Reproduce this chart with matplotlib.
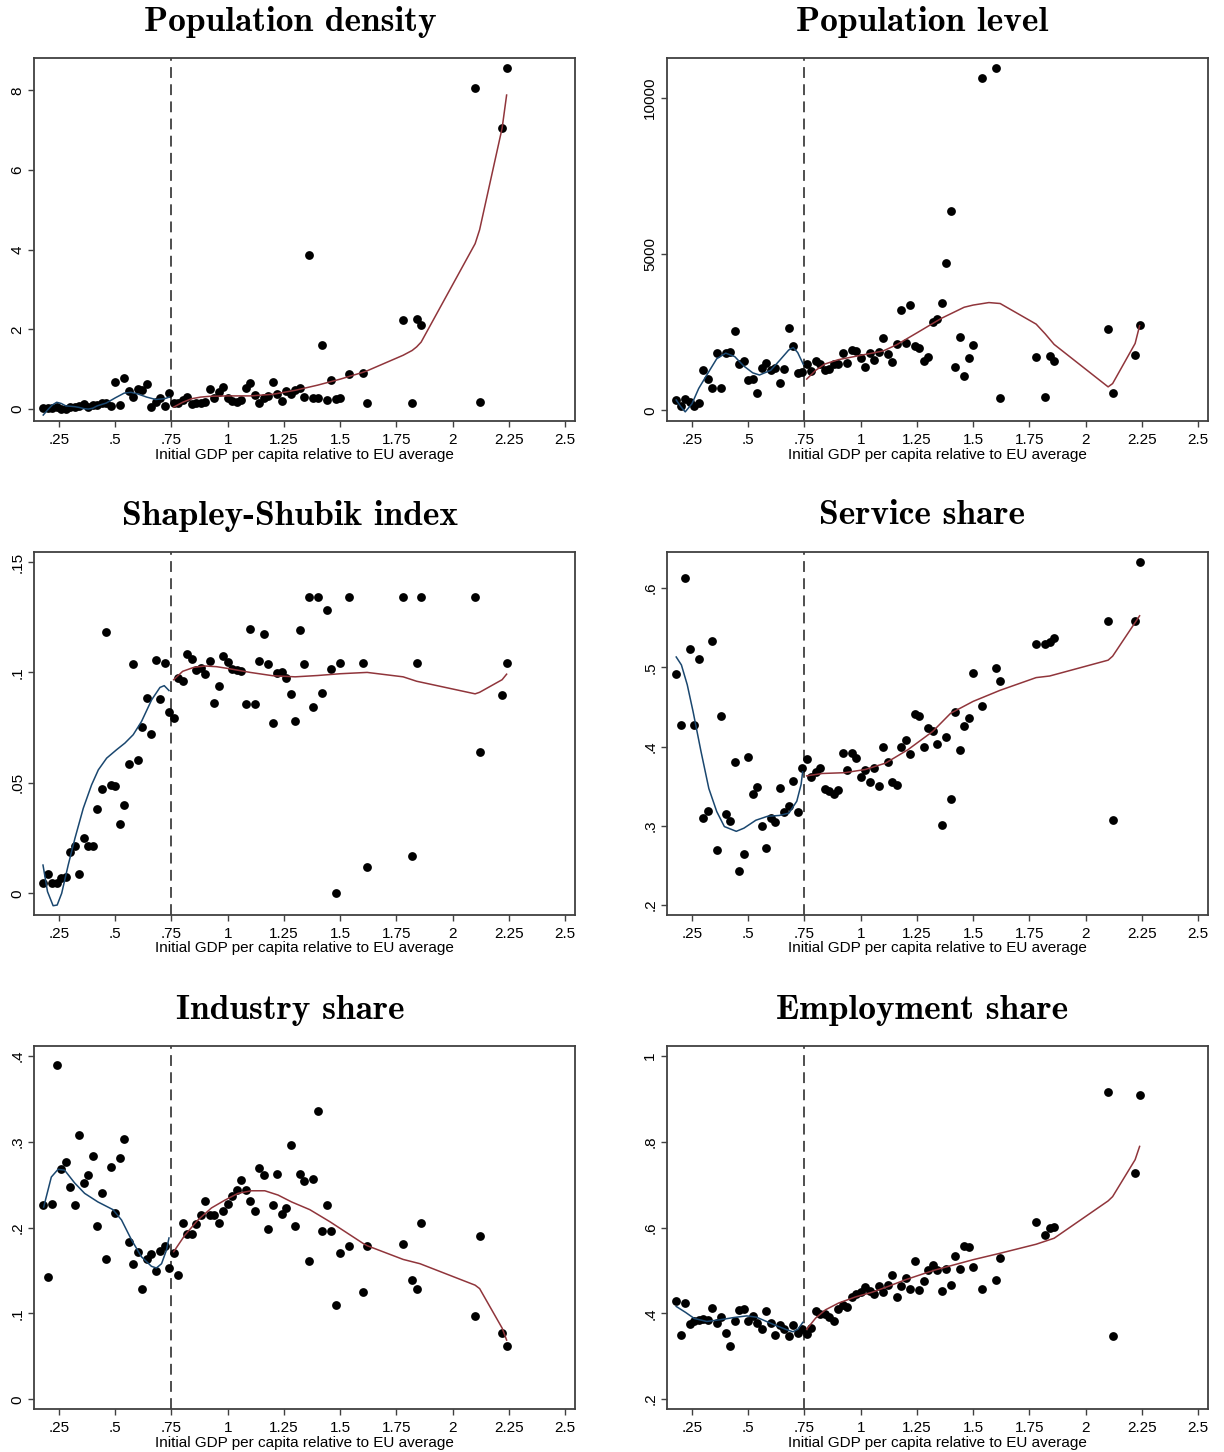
import numpy as np
import matplotlib.pyplot as plt

# initial GDP per capita relative to EU average, one entry per region
gdp = [0.18, 0.20, 0.22, 0.24, 0.26, 0.28, 0.30, 0.32, 0.34, 0.36, 0.38, 0.40, 0.42, 0.44, 0.46,
       0.48, 0.50, 0.52, 0.54, 0.56, 0.58, 0.60, 0.62, 0.64, 0.66, 0.68, 0.70, 0.72, 0.74,
       0.76, 0.78, 0.80, 0.82, 0.84, 0.86, 0.88, 0.90, 0.92, 0.94, 0.96, 0.98, 1.00, 1.02,
       1.04, 1.06, 1.08, 1.10, 1.12, 1.14, 1.16, 1.18, 1.20, 1.22, 1.24, 1.26, 1.28, 1.30,
       1.32, 1.34, 1.36, 1.38, 1.40, 1.42, 1.44, 1.46, 1.48, 1.50,
       1.54, 1.60, 1.62, 1.78, 1.82, 1.84, 1.86, 2.10, 2.12, 2.22, 2.24]

pop_density = [0.02, 0.03, 0.02, 0.05, 0.01, 0.00, 0.06, 0.05, 0.08, 0.12, 0.06, 0.10, 0.09, 0.15, 0.15,
               0.08, 0.67, 0.09, 0.79, 0.46, 0.31, 0.51, 0.47, 0.64, 0.06, 0.18, 0.28, 0.08, 0.40,
               0.16, 0.15, 0.23, 0.29, 0.13, 0.14, 0.16, 0.18, 0.51, 0.28, 0.44, 0.56, 0.28, 0.21,
               0.18, 0.23, 0.52, 0.66, 0.34, 0.15, 0.28, 0.33, 0.69, 0.39, 0.19, 0.46, 0.39, 0.48,
               0.52, 0.30, 3.86, 0.27, 0.27, 1.61, 0.23, 0.72, 0.24, 0.27,
               0.88, 0.91, 0.15, 2.23, 0.16, 2.25, 2.10, 8.05, 0.18, 7.05, 8.55]

pop_level = [321, 128, 364, 267, 150, 246, 1294, 1005, 717, 1840, 706, 1840, 1861, 2545, 1497,
             1583, 984, 1005, 567, 1369, 1519, 1305, 1369, 888, 1326, 2631, 2075, 1209, 1241,
             1497, 1262, 1572, 1497, 1283, 1326, 1476, 1476, 1840, 1529, 1925, 1904, 1690, 1380,
             1829, 1604, 1882, 2321, 1807, 1551, 2139, 3198, 2171, 3369, 2075, 1989, 1594, 1722,
             2813, 2930, 3444, 4727, 6396, 1380, 2332, 1102, 1690, 2086,
             10642, 10973, 396, 1701, 428, 1733, 1594, 2588, 556, 1786, 2738]

shapley = [0.0048, 0.0086, 0.0048, 0.0048, 0.0068, 0.0073, 0.0187, 0.0214, 0.0086, 0.0249, 0.0214,
           0.0214, 0.0382, 0.0471, 0.1183, 0.0492, 0.0488, 0.0313, 0.0399, 0.0586, 0.1039, 0.0603,
           0.0752, 0.0885, 0.0721, 0.1057, 0.0879, 0.1042, 0.0819,
           0.0793, 0.0973, 0.0961, 0.1085, 0.1059, 0.1012, 0.1021, 0.0991, 0.1050, 0.0863, 0.0940,
           0.1074, 0.1048, 0.1017, 0.1009, 0.1008, 0.0856, 0.1196, 0.0856, 0.1050, 0.1174, 0.1038,
           0.0773, 0.0998, 0.1003, 0.0974, 0.0902, 0.0782, 0.1192, 0.1039, 0.1341, 0.0844, 0.1341,
           0.0906, 0.1281, 0.1014, 0.0000, 0.1042,
           0.1341, 0.1042, 0.0121, 0.1341, 0.0168, 0.1042, 0.1341, 0.1341, 0.0640, 0.0900, 0.1042]

service = [0.492, 0.427, 0.613, 0.523, 0.427, 0.511, 0.310, 0.319, 0.533, 0.270, 0.438, 0.315, 0.306,
           0.380, 0.243, 0.264, 0.387, 0.340, 0.349, 0.300, 0.272, 0.310, 0.305, 0.348, 0.317, 0.325,
           0.357, 0.317, 0.373,
           0.384, 0.362, 0.368, 0.373, 0.346, 0.344, 0.340, 0.345, 0.392, 0.370, 0.392, 0.385, 0.361,
           0.371, 0.355, 0.373, 0.350, 0.399, 0.380, 0.355, 0.352, 0.400, 0.408, 0.391, 0.441, 0.439,
           0.400, 0.424, 0.419, 0.403, 0.301, 0.412, 0.334, 0.443, 0.396, 0.426, 0.436, 0.493,
           0.451, 0.499, 0.483, 0.530, 0.529, 0.532, 0.537, 0.558, 0.307, 0.558, 0.633]

industry = [0.226, 0.143, 0.228, 0.389, 0.268, 0.276, 0.247, 0.227, 0.308, 0.252, 0.261, 0.284, 0.202,
            0.240, 0.163, 0.271, 0.217, 0.281, 0.303, 0.183, 0.158, 0.172, 0.129, 0.163, 0.169, 0.149,
            0.173, 0.179, 0.153,
            0.171, 0.145, 0.206, 0.193, 0.193, 0.204, 0.215, 0.231, 0.215, 0.215, 0.205, 0.219, 0.228,
            0.237, 0.244, 0.256, 0.244, 0.231, 0.219, 0.270, 0.261, 0.199, 0.226, 0.262, 0.216, 0.223,
            0.296, 0.202, 0.262, 0.254, 0.161, 0.257, 0.336, 0.196, 0.226, 0.196, 0.110, 0.171,
            0.179, 0.125, 0.179, 0.181, 0.139, 0.129, 0.206, 0.097, 0.190, 0.077, 0.062]

employment = [0.428, 0.349, 0.425, 0.376, 0.381, 0.384, 0.386, 0.384, 0.413, 0.377, 0.391, 0.355, 0.323,
              0.383, 0.407, 0.411, 0.383, 0.393, 0.378, 0.364, 0.405, 0.377, 0.349, 0.372, 0.364, 0.348,
              0.373, 0.355, 0.363,
              0.351, 0.365, 0.406, 0.399, 0.398, 0.392, 0.383, 0.410, 0.420, 0.414, 0.437, 0.445, 0.449,
              0.461, 0.452, 0.444, 0.463, 0.449, 0.466, 0.490, 0.437, 0.464, 0.482, 0.456, 0.523, 0.455,
              0.475, 0.501, 0.513, 0.501, 0.453, 0.504, 0.466, 0.534, 0.504, 0.557, 0.555, 0.509,
              0.457, 0.477, 0.529, 0.612, 0.583, 0.600, 0.602, 0.915, 0.348, 0.727, 0.908]

# local fits, below (blue) and above (red) the 0.75 threshold
density_fit_lo_x = [0.18, 0.20, 0.22, 0.24, 0.26, 0.28, 0.30, 0.32, 0.34, 0.36, 0.38, 0.40, 0.42, 0.46,
                    0.50, 0.54, 0.57, 0.60, 0.64, 0.68, 0.72, 0.74]
density_fit_lo_y = [-0.15, -0.02, 0.10, 0.17, 0.14, 0.08, 0.07, 0.06, 0.04, 0.01, 0.00, 0.02, 0.08, 0.15,
                    0.28, 0.40, 0.42, 0.38, 0.30, 0.24, 0.26, 0.30]
density_fit_hi_x = [0.76, 0.80, 0.84, 0.88, 0.92, 1.00, 1.10, 1.20, 1.30, 1.40, 1.50, 1.60, 1.62, 1.78,
                    1.82, 1.84, 1.86, 2.10, 2.12, 2.22, 2.24]
density_fit_hi_y = [0.05, 0.17, 0.26, 0.30, 0.32, 0.33, 0.33, 0.37, 0.47, 0.60, 0.75, 0.92, 0.96, 1.35,
                    1.47, 1.56, 1.68, 4.15, 4.50, 7.05, 7.88]

level_fit_lo_x = [0.18, 0.20, 0.22, 0.25, 0.28, 0.32, 0.36, 0.40, 0.44, 0.48, 0.52, 0.55, 0.60, 0.64,
                  0.68, 0.70, 0.72, 0.745]
level_fit_lo_y = [330, 120, -50, 210, 700, 1180, 1650, 1830, 1720, 1420, 1200, 1130, 1280, 1600,
                  1930, 2010, 1850, 1470]
level_fit_hi_x = [0.76, 0.80, 0.84, 0.90, 1.00, 1.10, 1.16, 1.25, 1.36, 1.46, 1.50, 1.57, 1.62, 1.78,
                  1.82, 1.86, 2.10, 2.12, 2.22, 2.24]
level_fit_hi_y = [1000, 1280, 1480, 1620, 1760, 1900, 2100, 2480, 2950, 3300, 3370, 3450, 3420, 2760,
                  2450, 2110, 750, 856, 2140, 2710]

shapley_fit_lo_x = [0.179, 0.199, 0.224, 0.242, 0.262, 0.291, 0.321, 0.358, 0.395, 0.425, 0.462, 0.506,
                    0.543, 0.580, 0.617, 0.662, 0.699, 0.718, 0.739]
shapley_fit_lo_y = [0.0128, 0.0008, -0.0056, -0.0053, 0.0, 0.0128, 0.0249, 0.0385, 0.0491, 0.0559,
                    0.0612, 0.0650, 0.0680, 0.0718, 0.0778, 0.0876, 0.0932, 0.0940, 0.0918]
shapley_fit_hi_x = [0.76, 0.80, 0.85, 0.90, 0.95, 1.00, 1.05, 1.10, 1.20, 1.30, 1.40, 1.50, 1.62, 1.78,
                    1.84, 2.10, 2.12, 2.22, 2.24]
shapley_fit_hi_y = [0.0967, 0.1005, 0.1023, 0.1029, 0.1026, 0.1018, 0.1009, 0.1000, 0.0985, 0.0980,
                    0.0986, 0.0994, 0.1000, 0.0980, 0.0960, 0.0903, 0.0910, 0.0967, 0.0992]

service_fit_lo_x = [0.18, 0.203, 0.229, 0.255, 0.29, 0.325, 0.36, 0.394, 0.447, 0.481, 0.534, 0.586,
                    0.638, 0.681, 0.716, 0.735, 0.742]
service_fit_lo_y = [0.513, 0.503, 0.478, 0.444, 0.394, 0.347, 0.318, 0.299, 0.293, 0.297, 0.307, 0.312,
                    0.313, 0.316, 0.331, 0.352, 0.368]
service_fit_hi_x = [0.76, 0.83, 0.93, 1.02, 1.11, 1.21, 1.32, 1.40, 1.50, 1.62, 1.78, 1.84, 2.10, 2.12,
                    2.24]
service_fit_hi_y = [0.363, 0.366, 0.367, 0.371, 0.379, 0.396, 0.419, 0.442, 0.457, 0.471, 0.487, 0.489,
                    0.509, 0.514, 0.565]

industry_fit_lo_x = [0.182, 0.216, 0.246, 0.275, 0.32, 0.364, 0.423, 0.49, 0.528, 0.572, 0.617, 0.661,
                     0.683, 0.706, 0.728, 0.739]
industry_fit_lo_y = [0.224, 0.259, 0.268, 0.267, 0.252, 0.240, 0.230, 0.221, 0.209, 0.186, 0.166, 0.155,
                     0.153, 0.158, 0.174, 0.188]
industry_fit_hi_x = [0.76, 0.809, 0.868, 0.928, 0.987, 1.046, 1.106, 1.165, 1.224, 1.284, 1.365, 1.454,
                     1.60, 1.62, 1.78, 1.855, 2.10, 2.12, 2.22, 2.24]
industry_fit_hi_y = [0.172, 0.191, 0.209, 0.223, 0.232, 0.240, 0.243, 0.243, 0.238, 0.230, 0.221, 0.207,
                     0.182, 0.179, 0.163, 0.158, 0.133, 0.129, 0.083, 0.069]

employment_fit_lo_x = [0.18, 0.222, 0.26, 0.316, 0.375, 0.434, 0.493, 0.537, 0.581, 0.626, 0.670, 0.699,
                       0.721, 0.743]
employment_fit_lo_y = [0.416, 0.402, 0.388, 0.381, 0.385, 0.390, 0.394, 0.391, 0.381, 0.371, 0.362, 0.357,
                       0.363, 0.379]
employment_fit_hi_x = [0.76, 0.80, 0.843, 0.902, 0.976, 1.05, 1.124, 1.198, 1.272, 1.331, 1.50, 1.62,
                       1.78, 1.86, 2.10, 2.12, 2.22, 2.24]
employment_fit_hi_y = [0.363, 0.389, 0.408, 0.424, 0.438, 0.449, 0.463, 0.478, 0.491, 0.501, 0.525,
                       0.540, 0.561, 0.575, 0.662, 0.672, 0.758, 0.789]

xticks = [0.25, 0.5, 0.75, 1, 1.25, 1.5, 1.75, 2, 2.25, 2.5]
xticklabels = ['.25', '.5', '.75', '1', '1.25', '1.5', '1.75', '2', '2.25', '2.5']

panels = [
    ("Population density", pop_density, density_fit_lo_x, density_fit_lo_y, density_fit_hi_x, density_fit_hi_y,
     (-0.30, 8.81), [0, 2, 4, 6, 8], ['0', '2', '4', '6', '8']),
    ("Population level", pop_level, level_fit_lo_x, level_fit_lo_y, level_fit_hi_x, level_fit_hi_y,
     (-343, 11283), [0, 5000, 10000], ['0', '5000', '10000']),
    ("Shapley-Shubik index", shapley, shapley_fit_lo_x, shapley_fit_lo_y, shapley_fit_hi_x, shapley_fit_hi_y,
     (-0.0098, 0.1545), [0, 0.05, 0.1, 0.15], ['0', '.05', '.1', '.15']),
    ("Service share", service, service_fit_lo_x, service_fit_lo_y, service_fit_hi_x, service_fit_hi_y,
     (0.1874, 0.6455), [0.2, 0.3, 0.4, 0.5, 0.6], ['.2', '.3', '.4', '.5', '.6']),
    ("Industry share", industry, industry_fit_lo_x, industry_fit_lo_y, industry_fit_hi_x, industry_fit_hi_y,
     (-0.0113, 0.4117), [0, 0.1, 0.2, 0.3, 0.4], ['0', '.1', '.2', '.3', '.4']),
    ("Employment share", employment, employment_fit_lo_x, employment_fit_lo_y, employment_fit_hi_x,
     employment_fit_hi_y, (0.177, 1.023), [0.2, 0.4, 0.6, 0.8, 1.0], ['.2', '.4', '.6', '.8', '1']),
]

plt.rcParams['font.family'] = ['Liberation Sans', 'DejaVu Sans']
W, H = 1224, 1452
fig = plt.figure(figsize=(W / 100, H / 100), dpi=100)

axis_col = '#404040'
col_left = [34, 667]         # axes left edge in pixels
row_top = [58, 552, 1046]    # axes top edge in pixels
ax_w, ax_h = 541, 363
title_x = [290, 922]
title_y = [22, 516, 1010]

for i, (title, yvals, lo_x, lo_y, hi_x, hi_y, ylim, yticks, yticklabels) in enumerate(panels):
    r, c = divmod(i, 2)
    ax = fig.add_axes([col_left[c] / W, 1 - (row_top[r] + ax_h) / H, ax_w / W, ax_h / H])

    ax.scatter(gdp, yvals, s=40, color='black', linewidths=0, zorder=3)
    ax.plot(lo_x, lo_y, color='#1a476f', lw=1.1, zorder=4)
    ax.plot(hi_x, hi_y, color='#90353b', lw=1.1, zorder=4)
    ax.axvline(0.75, color=axis_col, lw=1.3, dashes=(6, 3.5), zorder=2)

    ax.set_xlim(0.139, 2.544)
    ax.set_ylim(*ylim)
    ax.set_xticks(xticks)
    ax.set_xticklabels(xticklabels)
    ax.set_yticks(yticks)
    ax.set_yticklabels(yticklabels, rotation=90, va='center')
    ax.tick_params(direction='out', length=4, width=1, color=axis_col, labelsize=11, pad=3)
    ax.tick_params(axis='x', pad=5)
    for sp in ax.spines.values():
        sp.set_color(axis_col)
        sp.set_linewidth(1.3)
    ax.set_xlabel("Initial GDP per capita relative to EU average", fontsize=11, labelpad=0)

    fig.text(title_x[c] / W, 1 - title_y[r] / H, title, ha='center', va='center',
             fontfamily='cmb10', fontsize=25.5)

fig.savefig('out.png', dpi=100, facecolor='white')
